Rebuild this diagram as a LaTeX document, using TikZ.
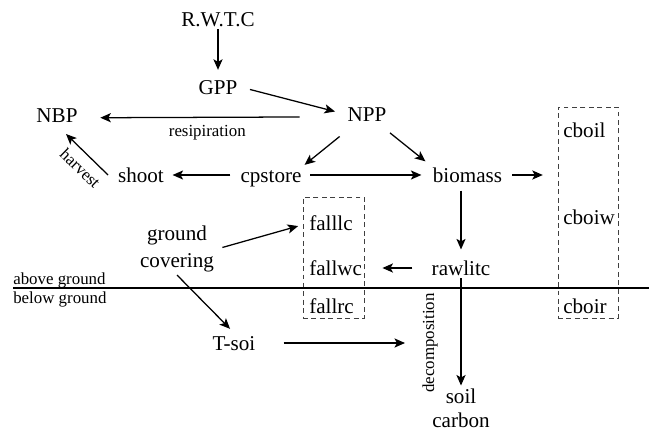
\documentclass[tikz,border=0pt]{standalone}
\usepackage{fontspec}
\setmainfont{Liberation Serif}
\usetikzlibrary{arrows.meta,positioning}
\tikzset{
    % Carbon pool text
    pool/.style={
        inner sep=2pt, text height=10pt, text depth=0pt,
        font=\fontsize{15}{18}\selectfont
    },
    pooltwo/.style={
        inner sep=2pt, align=center
    },
    % Items inside the dashed groups
    boxitem/.style={
        pool, inner sep=0pt, anchor=west
    },
    % Small labels
    tag/.style={
        font=\fontsize{12}{14}\selectfont, inner sep=1.5pt
    },
    % Carbon flux arrows
    flux/.style={
        -{Stealth[length=7.5pt,width=6.5pt,inset=1.8pt]}, line width=0.9pt
    },
    % Dashed group frame
    group/.style={
        rectangle, draw=black!75, dash pattern=on 3.5pt off 2.5pt,
        line width=0.6pt, inner sep=0pt
    },
    groundline/.style={line width=1.1pt}
}
\begin{document}
\begin{tikzpicture}[x=0.025cm, y=-0.025cm]
\useasboundingbox (0,0) rectangle (649,431);

% Pools above ground
\node[pool] (rwtc) at (218,19) {R.W.T.C};
\node[pool] (gpp) at (218,87) {GPP};
\node[pool] (npp) at (367,114) {NPP};
\node[pool] (nbp) at (57,115) {NBP};
\node[pool] (shoot) at (141,175) {shoot};
\node[pool] (cpstore) at (271,175) {cpstore};
\node[pool] (biomass) at (467.5,175) {biomass};
\node[pool] (rawlitc) at (461,268) {rawlitc};
\node[pooltwo, font=\fontsize{15}{19}\selectfont] (ground) at (177,249) {ground\\covering};

% Pools below ground
\node[pool] (tsoi) at (234,343) {T-soi};
\node[pooltwo, font=\fontsize{15}{17}\selectfont] (soil) at (461,408) {soil\\carbon};
\coordinate (decoin) at (405,343);

% Litter fall group
\node[group, minimum width=1.525cm, minimum height=3.025cm] (fallbox) at (333.5,257.5) {};
\node[boxitem] (falllc) at (309,223) {falllc};
\node[boxitem] (fallwc) at (309,268) {fallwc};
\node[boxitem] (fallrc) at (309,306) {fallrc};

% Biomass output group
\node[group, minimum width=1.5cm, minimum height=5.275cm] (cboibox) at (588,212.5) {};
\node[boxitem] (cboil) at (563,130) {cboil};
\node[boxitem] (cboiw) at (563,217) {cboiw};
\node[boxitem] (cboir) at (563,306) {cboir};

% Ground surface
\draw[groundline] (13,288) -- (649,288);
\node[tag, anchor=base west, inner sep=0pt] (above) at (13,284) {above ground};
\node[tag, anchor=base west, inner sep=0pt] (below) at (13,303) {below ground};

% Fluxes
\draw[flux, shorten >=5pt] (rwtc) -- (gpp);
\draw[flux, shorten <=7pt, shorten >=7pt] (gpp.east) -- (npp.west);
\draw[flux, shorten <=32pt, shorten >=14pt] ([yshift=-2pt]npp.west) -- ([yshift=-2pt]nbp.east)
    node[tag, pos=0.52, below=4pt] {resipiration};
\draw[flux, shorten <=5pt, shorten >=4pt] (cpstore) -- (shoot);
\draw[flux] ([xshift=-5pt]shoot.west) -- ([shift={(9,19)}]nbp.center)
    node[tag, pos=0.42, sloped, below=4pt] {harvest};
\draw[flux, shorten <=14pt] (npp.-140) -- (cpstore.north east);
\draw[flux, shorten <=10pt, shorten >=4pt] (npp.-40) -- (biomass.north west);
\draw[flux, shorten <=4pt, shorten >=6pt] (cpstore) -- (biomass);
\draw[flux, shorten <=5pt, shorten >=10.5pt] (biomass) -- (cboibox.west |- biomass);
\draw[flux, shorten <=4pt, shorten >=6pt] (rawlitc.north |- biomass.south) -- (rawlitc.north);
\draw[flux, shorten <=11.5pt, shorten >=12.8pt] (rawlitc) -- (fallbox.east |- rawlitc);
\draw[flux] (rawlitc) -- (soil);
\draw[flux, shorten <=4pt, shorten >=8pt] (ground.east) -- (falllc.west);
\draw[flux, shorten >=4pt] (ground.south) -- (tsoi.north);
\draw[flux, shorten <=18pt] (tsoi) -- (decoin);
\node[tag, rotate=90] (decomp) at (430,343) {decomposition};

\end{tikzpicture}
\end{document}
